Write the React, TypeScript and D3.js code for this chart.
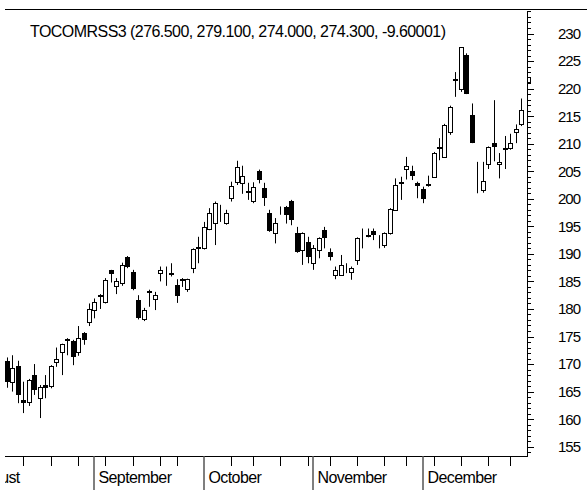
import React from 'react';
import * as d3 from 'd3';

// daily candles, index 0 = first visible trading day
const title = 'TOCOMRSS3 (276.500, 279.100, 274.000, 274.300, -9.60001)';

const opens = [
  170.6, 166.8, 169.7, 163.5, 163.2, 168.0, 163.8, 166.2, 166.0, 170.4,
  172.2, 174.5, 174.2, 172.2, 175.6, 177.7, 179.8, 182.5, 181.3, 187.0,
  184.2, 184.8, 189.4, 186.7, 181.6, 178.1, 183.3, 181.8, 186.6, 186.7,
  186.6, 184.4, 185.4, 183.6, 187.4, 191.3, 191.0, 194.6, 195.6, 197.5,
  195.6, 200.1, 203.1, 202.9, 201.4, 199.6, 205.1, 202.0, 197.4, 193.7,
  197.8, 198.5, 199.6, 193.8, 190.7, 192.2, 188.3, 190.7, 194.3, 190.4,
  186.2, 186.2, 187.3, 186.8, 188.9, 192.8, 193.4, 194.2, 192.0, 191.6,
  193.7, 198.0, 203.1, 205.4, 205.1, 202.9, 201.8, 202.6, 203.9, 209.4,
  207.6, 212.1, 221.8, 219.9, 226.1, 215.2, 204.0, 201.6, 206.3, 210.2,
  206.3, 209.2, 209.2, 212.2, 213.6,
];
const highs = [
  171.2, 171.6, 170.6, 166.8, 167.3, 170.0, 166.2, 168.0, 169.8, 173.0,
  173.7, 174.7, 174.4, 176.9, 175.8, 181.0, 181.9, 182.7, 185.6, 187.1,
  185.6, 188.4, 189.6, 187.1, 182.5, 180.2, 183.5, 183.1, 187.7, 187.7,
  188.3, 185.4, 185.6, 185.5, 191.0, 193.1, 195.8, 198.3, 199.5, 198.9,
  198.0, 203.1, 206.9, 206.0, 202.9, 203.0, 205.3, 202.9, 198.0, 196.5,
  198.6, 198.7, 199.8, 194.9, 193.9, 193.1, 191.6, 193.0, 194.9, 191.0,
  187.7, 189.8, 188.3, 187.7, 193.0, 194.6, 194.6, 194.6, 193.4, 193.9,
  198.3, 203.7, 204.0, 207.6, 206.0, 203.1, 202.2, 204.2, 208.5, 211.0,
  213.6, 216.9, 223.0, 227.5, 226.4, 217.3, 206.7, 206.7, 209.5, 217.9,
  208.3, 211.4, 211.8, 213.5, 218.2,
];
const lows = [
  165.7, 165.0, 162.9, 161.1, 162.4, 164.4, 160.2, 163.8, 165.6, 169.5,
  168.0, 171.6, 169.8, 171.5, 173.5, 176.9, 178.3, 180.0, 181.0, 184.8,
  182.7, 184.2, 187.4, 183.4, 178.1, 177.8, 180.4, 179.8, 185.0, 184.2,
  185.9, 181.1, 184.0, 183.1, 186.5, 188.3, 190.8, 194.3, 191.6, 195.8,
  195.3, 199.5, 202.5, 200.9, 199.8, 199.2, 202.8, 198.7, 194.0, 191.9,
  197.1, 195.5, 195.2, 190.2, 188.0, 188.3, 187.1, 189.2, 191.0, 188.8,
  185.4, 186.0, 186.5, 185.3, 188.0, 191.0, 193.0, 192.5, 191.0, 191.1,
  193.5, 197.8, 199.8, 203.5, 203.4, 200.1, 199.2, 202.2, 203.8, 207.0,
  207.4, 211.6, 218.5, 219.4, 219.0, 210.1, 201.0, 201.1, 205.4, 206.8,
  203.7, 205.4, 208.9, 210.1, 213.2,
];
const closes = [
  166.8, 169.3, 164.3, 163.0, 167.1, 165.3, 165.8, 165.6, 169.7, 171.0,
  173.6, 174.1, 171.3, 174.8, 174.4, 180.0, 181.3, 182.1, 185.3, 186.4,
  185.0, 188.0, 187.7, 183.6, 178.3, 179.8, 183.0, 182.5, 187.1, 186.7,
  186.3, 182.4, 185.1, 185.4, 190.8, 191.0, 194.9, 197.5, 199.3, 197.5,
  197.5, 202.3, 205.7, 204.1, 201.0, 202.1, 203.4, 200.1, 194.2, 195.6,
  197.8, 197.1, 196.1, 190.4, 193.7, 189.5, 191.0, 192.8, 192.8, 189.4,
  187.1, 188.0, 187.3, 187.5, 192.8, 192.8, 193.1, 193.4, 192.0, 193.7,
  198.1, 202.5, 202.7, 206.0, 204.1, 202.3, 199.9, 202.3, 208.3, 209.0,
  213.4, 216.7, 221.6, 227.5, 219.1, 210.2, 204.0, 203.3, 209.35, 209.4,
  206.7, 208.9, 210.2, 212.7, 216.1,
];

const monthNames = ['August', 'September', 'October', 'November', 'December'];
const monthStarts = [-7, 16, 36, 56, 76];
const weekTicks = [3, 8, 13, 18, 23, 28, 31, 41, 45, 50, 55, 59, 64, 69, 73, 78, 83, 88, 92];
const priceLabels = d3.range(155, 231, 5);
const priceTicks = d3.range(154, 235);
const lastMarker = 221.6;

const W = 587;
const H = 490;
const left = 5;
const axisX = 527;
const axisY = 456;
const font = '"Liberation Sans", Arial, sans-serif';

export default function App() {
  const x = d3.scaleLinear().domain([0, 94]).range([7, 521]);
  const y = d3.scaleLinear().domain([155, 230]).range([446.7, 33.5]);
  const px = (i: number) => Math.round(x(i)) + 0.5;

  return (
    <svg width={W} height={H} style={{ position: 'absolute', left: 0, top: 0, background: '#fff' }}>
      <defs>
        <clipPath id="plotclip">
          <rect x={left} y={0} width={W - left} height={H} />
        </clipPath>
      </defs>
      <rect width={W} height={H} fill="#fff" />
      <line x1={left} x2={W} y1={9.5} y2={9.5} stroke="#000" />
      <text x={30} y={37} fontFamily={font} fontSize={16} letterSpacing={-0.55} fill="#000">
        {title}
      </text>

      {/* candles */}
      <g>
        {opens.map((o, i) => {
          const c = closes[i];
          const cx = px(i);
          const up = c >= o;
          const yt = Math.round(y(Math.max(o, c)));
          const yb = Math.round(y(Math.min(o, c)));
          return (
            <g key={i}>
              <line x1={cx} x2={cx} y1={y(highs[i])} y2={y(lows[i])} stroke="#000" strokeWidth={1} />
              {o === c ? null : up ? (
                <rect x={cx - 2} y={yt + 0.5} width={4} height={Math.max(1, yb - yt)} fill="#fff" stroke="#000" strokeWidth={1} />
              ) : (
                <rect x={cx - 2.5} y={yt} width={5} height={Math.max(2, yb - yt)} fill="#000" />
              )}
            </g>
          );
        })}
      </g>

      {/* price axis */}
      <line x1={axisX + 0.5} x2={axisX + 0.5} y1={y(234)} y2={axisY} stroke="#000" />
      {priceTicks.map((v) => (
        <line key={v} x1={axisX} x2={axisX + (v % 5 === 0 ? 7 : 4)} y1={Math.round(y(v)) + 0.5} y2={Math.round(y(v)) + 0.5} stroke="#000" />
      ))}
      {priceLabels.map((v) => (
        <text key={v} x={558} y={y(v)} dy="0.36em" fontFamily={font} fontSize={15} letterSpacing={-1} fill="#000">
          {v}
        </text>
      ))}
      <rect x={axisX + 0.5} y={Math.round(y(lastMarker)) - 2.5} width={3} height={5} fill="#fff" stroke="#000" />

      {/* time axis */}
      <line x1={left} x2={axisX + 1} y1={axisY + 0.5} y2={axisY + 0.5} stroke="#000" />
      {weekTicks.map((i) => (
        <line key={i} x1={px(i)} x2={px(i)} y1={axisY} y2={axisY + 10} stroke="#000" />
      ))}
      <g clipPath="url(#plotclip)">
        {monthStarts.map((i, k) => (
          <g key={k}>
            <line x1={px(i) - 0.5} x2={px(i) - 0.5} y1={axisY} y2={H} stroke="#555" strokeWidth={1.5} />
            <text x={px(i) + 4} y={483} fontFamily={font} fontSize={16} letterSpacing={-0.6} fill="#000">
              {monthNames[k]}
            </text>
          </g>
        ))}
      </g>
    </svg>
  );
}
